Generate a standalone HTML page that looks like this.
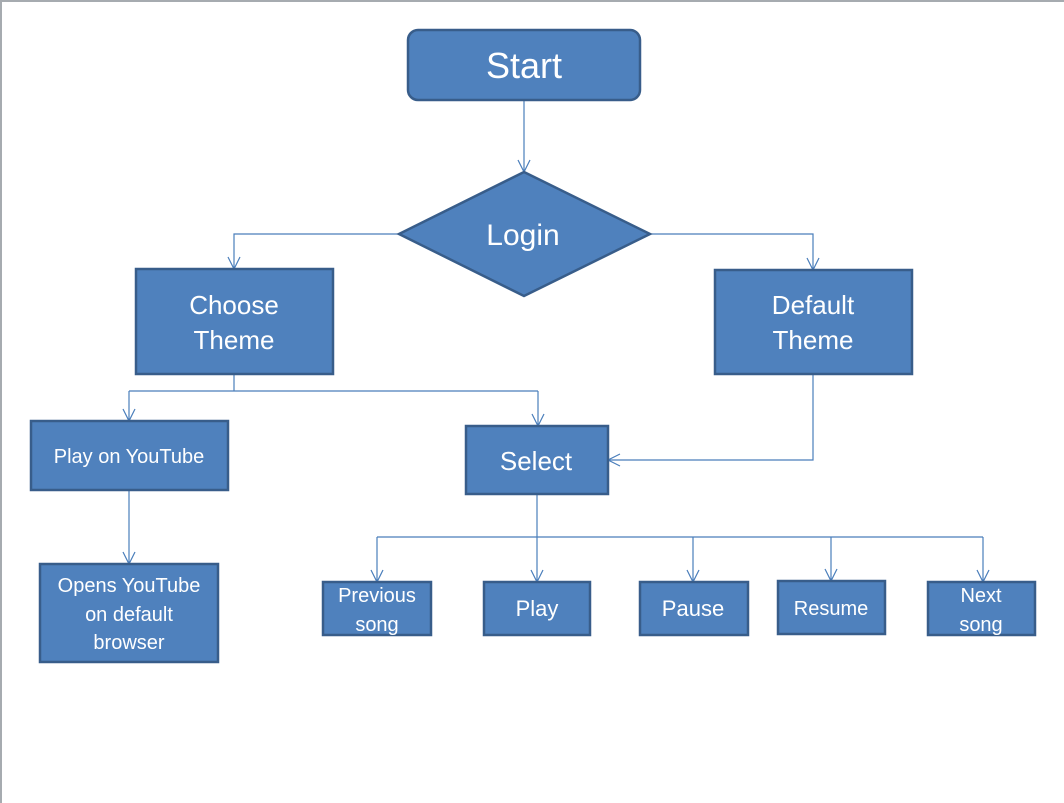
<!DOCTYPE html>
<html><head><style>
html,body{margin:0;padding:0;background:#fff;}
svg{display:block;}
text{font-family:"Liberation Sans",sans-serif;fill:#fff;text-anchor:middle;}
</style></head><body>
<svg width="1064" height="803" viewBox="0 0 1064 803" xmlns="http://www.w3.org/2000/svg">
<rect x="0" y="0" width="1064" height="803" fill="#fff"/>
<line x1="0" y1="1" x2="1064" y2="1" stroke="#a6abb0" stroke-width="2"/>
<line x1="1" y1="0" x2="1" y2="803" stroke="#a6abb0" stroke-width="2"/>
<g stroke="#4a7ebb" stroke-width="1.2" fill="none">
<path d="M524 100V172"/><path d="M518 160L524 172L530 160"/>
<path d="M399 234H234V269"/><path d="M228 257L234 269L240 257"/>
<path d="M650 234H813V270"/><path d="M807 258L813 270L819 258"/>
<path d="M234 374V391M129 391H538M129 391V421M538 391V426"/>
<path d="M123 409L129 421L135 409"/><path d="M532 414L538 426L544 414"/>
<path d="M813 374V460H608"/><path d="M620 454L608 460L620 466"/>
<path d="M129 490V564"/><path d="M123 552L129 564L135 552"/>
<path d="M537 494V582M377 537H983M377 537V582M693 537V582M831 537V581M983 537V582"/>
<path d="M371 570L377 582L383 570M531 570L537 582L543 570M687 570L693 582L699 570M825 569L831 581L837 569M977 570L983 582L989 570"/>
</g>
<g fill="#4f81bd" stroke="#385d8a" stroke-width="2.5">
<rect x="408" y="30" width="232" height="70" rx="10"/>
<polygon points="524,172 650,234 524,296 399,234"/>
<rect x="136" y="269" width="197" height="105"/>
<rect x="715" y="270" width="197" height="104"/>
<rect x="31" y="421" width="197" height="69"/>
<rect x="40" y="564" width="178" height="98"/>
<rect x="466" y="426" width="142" height="68"/>
<rect x="323" y="582" width="108" height="53"/>
<rect x="484" y="582" width="106" height="53"/>
<rect x="640" y="582" width="108" height="53"/>
<rect x="778" y="581" width="107" height="53"/>
<rect x="928" y="582" width="107" height="53"/>
</g>
<text x="524" y="78" font-size="36">Start</text>
<text x="523" y="245" font-size="30">Login</text>
<text x="234" y="314" font-size="26">Choose</text>
<text x="234" y="349" font-size="26">Theme</text>
<text x="813" y="314" font-size="26">Default</text>
<text x="813" y="349" font-size="26">Theme</text>
<text x="129" y="463" font-size="20">Play on YouTube</text>
<text x="129" y="592" font-size="20">Opens YouTube</text>
<text x="129" y="621" font-size="20">on default</text>
<text x="129" y="649" font-size="20">browser</text>
<text x="536" y="470" font-size="26">Select</text>
<text x="377" y="602" font-size="20">Previous</text>
<text x="377" y="631" font-size="20">song</text>
<text x="537" y="616" font-size="22">Play</text>
<text x="693" y="616" font-size="22">Pause</text>
<text x="831" y="615" font-size="20">Resume</text>
<text x="981" y="602" font-size="20">Next</text>
<text x="981" y="631" font-size="20">song</text>
</svg>
</body></html>
